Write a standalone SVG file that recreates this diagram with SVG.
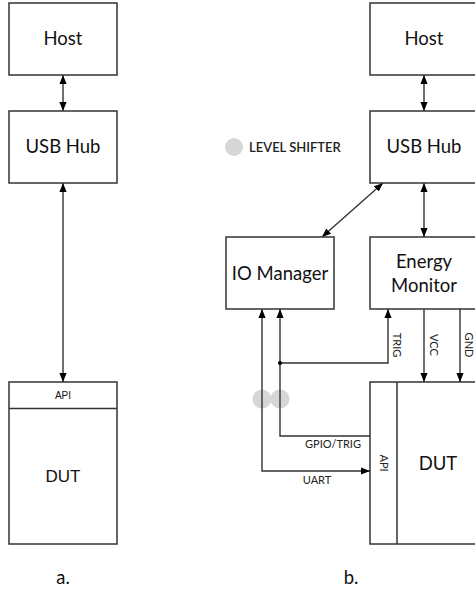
<svg xmlns="http://www.w3.org/2000/svg" width="475" height="592" viewBox="0 0 475 592">
<defs>
<marker id="ah" viewBox="0 0 10 8" refX="10" refY="4" markerWidth="9" markerHeight="8" markerUnits="userSpaceOnUse" orient="auto-start-reverse">
<path d="M0,0 L10,4 L0,8 z" fill="#000"/>
</marker>
<style>
.box{fill:#fff;stroke:#333;stroke-width:1.5}
.t{font-family:Lato,"Noto Sans",sans-serif;font-size:18.5px;fill:#111;text-anchor:middle}
.a{font-family:"Liberation Sans",Arial,sans-serif;fill:#111;text-anchor:middle}
.s{font-family:Lato,"Noto Sans",sans-serif;font-size:11px;fill:#222;text-anchor:middle}
.c{fill:none;stroke:#333;stroke-width:1.4}
.ls{fill:#d6d6d6}
</style>
</defs>
<rect width="475" height="592" fill="#fff"/>

<g id="level-shifters">
<circle class="ls" cx="262" cy="399" r="9.5"/>
<circle class="ls" cx="280" cy="399" r="9.5"/>
</g>

<g id="connectors">
<line class="c" x1="63" y1="75" x2="63" y2="111" marker-start="url(#ah)" marker-end="url(#ah)"/>
<line class="c" x1="63" y1="183" x2="63" y2="382" marker-start="url(#ah)" marker-end="url(#ah)"/>
<line class="c" x1="424" y1="75" x2="424" y2="111" marker-start="url(#ah)" marker-end="url(#ah)"/>
<line class="c" x1="424" y1="183" x2="424" y2="237" marker-start="url(#ah)" marker-end="url(#ah)"/>
<line class="c" x1="383" y1="183" x2="322" y2="237" marker-start="url(#ah)" marker-end="url(#ah)"/>
<path class="c" d="M262,309 V471 H370" marker-start="url(#ah)" marker-end="url(#ah)"/>
<path class="c" d="M370,436 H280 V309" marker-end="url(#ah)"/>
<path class="c" d="M280,363 H388 V309" marker-end="url(#ah)"/>
<circle cx="280" cy="363" r="2" fill="#000"/>
<path class="c" d="M424,309 V382" marker-end="url(#ah)"/>
<path class="c" d="M460,309 V382" marker-end="url(#ah)"/>
<text class="s" transform="translate(393,345) rotate(90)">TRIG</text>
<text class="s" transform="translate(430,345) rotate(90)">VCC</text>
<text class="s" transform="translate(465,345) rotate(90)">GND</text>
<text class="s" x="333" y="448">GPIO/TRIG</text>
<text class="s" x="317" y="484">UART</text>
</g>

<g id="a-host">
<rect class="box" x="9" y="3" width="108" height="72"/>
<text class="t" x="63" y="45">Host</text>
</g>
<g id="a-usbhub">
<rect class="box" x="9" y="111" width="108" height="72"/>
<text class="t" x="63" y="153">USB Hub</text>
</g>
<g id="a-dut">
<rect class="box" x="9" y="382" width="108" height="162"/>
<line x1="9" y1="408.5" x2="117" y2="408.5" stroke="#333" stroke-width="1.5"/>
<text class="a" x="63" y="399" font-size="10">API</text>
<text class="a" x="63" y="482" font-size="17">DUT</text>
</g>
<text class="t" x="63" y="584" font-size="16">a.</text>

<g id="legend">
<circle class="ls" cx="234" cy="147" r="9"/>
<text x="249" y="152" font-family="Lato,'Noto Sans',sans-serif" font-size="13" font-weight="600" fill="#222">LEVEL SHIFTER</text>
</g>

<g id="b-host">
<rect class="box" x="370" y="3" width="108" height="72"/>
<text class="t" x="424" y="45">Host</text>
</g>
<g id="b-usbhub">
<rect class="box" x="370" y="111" width="108" height="72"/>
<text class="t" x="424" y="153">USB Hub</text>
</g>
<g id="b-iomanager">
<rect class="box" x="226" y="237" width="108" height="72"/>
<text class="t" x="280" y="280">IO Manager</text>
</g>
<g id="b-energymonitor">
<rect class="box" x="370" y="237" width="108" height="72"/>
<text class="t" x="424" y="268">Energy</text>
<text class="t" x="424" y="292">Monitor</text>
</g>
<g id="b-dut">
<rect class="box" x="370" y="382" width="108" height="162"/>
<line x1="397" y1="382" x2="397" y2="544" stroke="#333" stroke-width="1.5"/>
<text class="s" transform="translate(380,463) rotate(90)">API</text>
<text class="t" x="438" y="470">DUT</text>
</g>
<text class="t" x="351" y="584" font-size="16">b.</text>
</svg>
